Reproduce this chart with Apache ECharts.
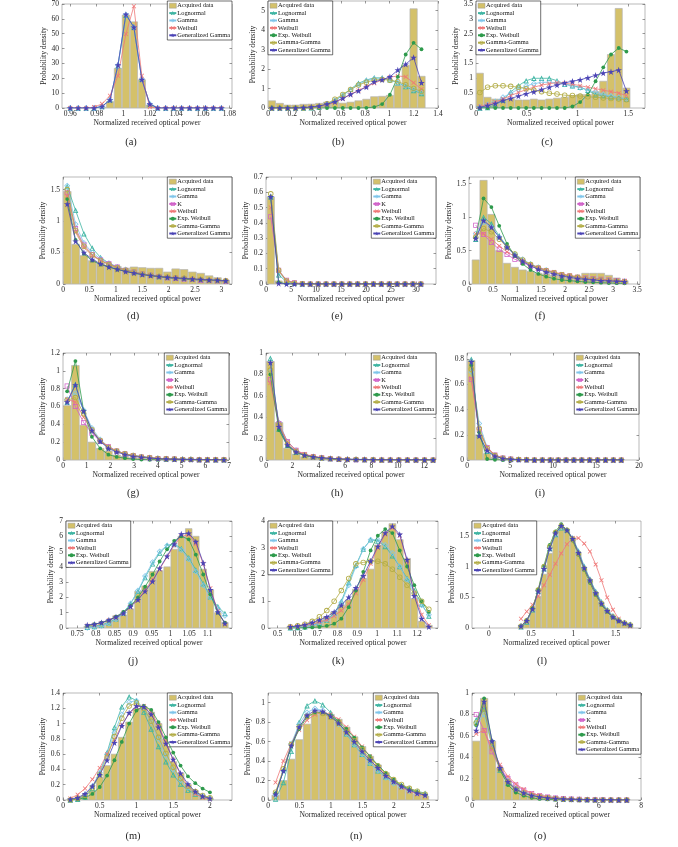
<!DOCTYPE html>
<html><head><meta charset="utf-8">
<script src="https://cdn.jsdelivr.net/npm/echarts@6/dist/echarts.min.js"></script>
<style>html,body{margin:0;padding:0;background:#fff}#c{width:678px;height:847px}</style>
</head><body><div id="c"></div>
<script>
// ---------------- DATA ----------------
// (a)
const A_x = [0.960,0.966,0.972,0.978,0.984,0.990,0.996,1.002,1.008,1.014,1.020,1.026,1.032,1.038,1.044,1.050,1.056,1.062,1.068,1.074];
const A_data = [0,0,0,0,0.5,4.3,26.7,62.6,58,19,2,0,0,0,0,0,0,0,0,0];
const A_logn = [0,0,0,0,1,5.6,28.5,62.5,54.5,19.5,2.8,0.1,0,0,0,0,0,0,0,0];
const A_gamma = [0,0,0,0,1,5.5,28.8,62.8,54.4,19.3,2.7,0,0,0,0,0,0,0,0,0];
const A_weib = [0,0,0,0.6,2.8,8.3,21.7,49.8,68.5,21.7,0.6,0,0,0,0,0,0,0,0,0];
const A_gen = [0,0,0,0,1,5.4,29,63,54.3,19.1,2.6,0,0,0,0,0,0,0,0,0];
const A_xt = [0.96,0.98,1,1.02,1.04,1.06,1.08];
const A_yt = [0,10,20,30,40,50,60,70];
// (b)
const B_x = [0.032,0.097,0.162,0.227,0.292,0.356,0.421,0.486,0.551,0.616,0.680,0.745,0.810,0.875,0.940,1.004,1.069,1.134,1.199,1.264];
const B_data = [0.37,0.24,0.15,0.15,0.19,0.2,0.24,0.3,0.35,0.25,0.3,0.37,0.45,0.58,0.6,0.65,1.15,2.2,5.1,1.63];
const B_logn = [0,0,0,0,0,0.01,0.05,0.18,0.38,0.65,0.97,1.27,1.44,1.55,1.55,1.45,1.3,1.1,0.9,0.75];
const B_gamma = [0,0,0,0,0,0.02,0.07,0.2,0.4,0.65,0.93,1.2,1.4,1.5,1.5,1.43,1.3,1.13,0.95,0.8];
const B_weib = [0,0,0,0,0.01,0.03,0.07,0.15,0.3,0.48,0.7,0.9,1.1,1.27,1.45,1.58,1.65,1.6,1.3,0.97];
const B_expw = [0,0,0,0,0,0,0,0,0,0,0,0,0.01,0.05,0.2,0.68,1.6,2.75,3.35,3.02];
const B_gg2 = [0,0,0,0,0,0.02,0.08,0.22,0.45,0.7,0.95,1.18,1.33,1.43,1.47,1.43,1.35,1.2,1.0,0.85];
const B_gen = [0,0,0,0,0.02,0.05,0.1,0.2,0.32,0.5,0.7,0.88,1.08,1.35,1.45,1.6,1.95,2.25,2.6,1.3];
const B_xt = [0,0.2,0.4,0.6,0.8,1,1.2,1.4];
const B_yt = [0,1,2,3,4,5];
// (c)
const C_x = [0.038,0.114,0.190,0.266,0.342,0.418,0.494,0.570,0.646,0.722,0.798,0.874,0.950,1.026,1.102,1.178,1.254,1.330,1.406,1.482];
const C_data = [1.17,0.36,0.3,0.3,0.32,0.27,0.27,0.3,0.27,0.3,0.33,0.36,0.42,0.45,0.45,0.55,0.9,1.8,3.35,0.67];
const C_logn = [0,0.02,0.1,0.27,0.54,0.75,0.92,1.0,1.0,1.0,0.92,0.8,0.75,0.7,0.6,0.45,0.42,0.38,0.35,0.3];
const C_gamma = [0.03,0.12,0.22,0.36,0.5,0.63,0.74,0.82,0.86,0.87,0.85,0.8,0.74,0.68,0.6,0.53,0.46,0.4,0.35,0.3];
const C_weib = [0.05,0.12,0.2,0.3,0.42,0.52,0.62,0.7,0.77,0.82,0.85,0.83,0.8,0.75,0.7,0.65,0.6,0.55,0.5,0.42];
const C_expw = [0,0,0,0,0,0,0,0,0,0,0,0,0.05,0.2,0.45,0.9,1.37,1.8,2.02,1.9];
const C_gg2 = [0.52,0.7,0.75,0.75,0.73,0.7,0.65,0.6,0.55,0.5,0.47,0.43,0.42,0.4,0.38,0.36,0.34,0.32,0.3,0.28];
const C_gen = [0.02,0.08,0.15,0.25,0.32,0.4,0.48,0.55,0.62,0.7,0.77,0.85,0.9,0.95,1.02,1.1,1.18,1.22,1.28,0.57];
const C_xt = [0,0.5,1,1.5];
const C_yt = [0,0.5,1,1.5,2,2.5,3,3.5];
// (d)
const D_x = [0.080,0.238,0.396,0.554,0.712,0.870,1.028,1.186,1.344,1.502,1.660,1.818,1.976,2.134,2.292,2.450,2.608,2.766,2.924,3.082];
const D_data = [1.47,0.63,0.45,0.37,0.33,0.3,0.28,0.25,0.27,0.26,0.25,0.25,0.19,0.24,0.23,0.19,0.17,0.13,0.1,0.06];
const D_logn = [1.55,1.17,0.8,0.57,0.42,0.33,0.27,0.22,0.19,0.16,0.14,0.12,0.11,0.1,0.09,0.08,0.07,0.065,0.06,0.055];
const D_gamma = [1.56,0.95,0.65,0.5,0.4,0.33,0.27,0.23,0.19,0.16,0.14,0.12,0.1,0.09,0.08,0.07,0.06,0.055,0.05,0.045];
const D_k = [1.45,0.88,0.62,0.47,0.38,0.32,0.27,0.22,0.19,0.16,0.14,0.12,0.1,0.09,0.08,0.07,0.06,0.055,0.05,0.045];
const D_weib = [1.4,0.82,0.58,0.45,0.37,0.31,0.26,0.22,0.19,0.16,0.14,0.12,0.11,0.1,0.09,0.08,0.07,0.06,0.055,0.05];
const D_expw = [1.35,0.7,0.48,0.37,0.31,0.27,0.23,0.2,0.17,0.15,0.13,0.115,0.1,0.09,0.08,0.07,0.065,0.06,0.055,0.05];
const D_gg2 = [1.5,0.85,0.6,0.46,0.37,0.31,0.26,0.22,0.19,0.16,0.14,0.12,0.11,0.1,0.09,0.08,0.07,0.06,0.055,0.05];
const D_gen = [1.27,0.68,0.5,0.39,0.32,0.27,0.235,0.2,0.175,0.15,0.135,0.12,0.105,0.095,0.088,0.08,0.072,0.065,0.058,0.05];
const D_xt = [0,0.5,1,1.5,2,2.5,3];
const D_yt = [0,0.5,1,1.5];
// (e)
const E_x = [0.95,2.53,4.11,5.69,7.27,8.85,10.43,12.01,13.59,15.17,16.75,18.33,19.91,21.49,23.07,24.65,26.23,27.81,29.39,30.97];
const E_data = [0.57,0.02,0.005,0,0,0,0,0,0,0,0,0,0,0,0,0,0,0,0,0];
const E_logn = [0.57,0.06,0.015,0.005,0,0,0,0,0,0,0,0,0,0,0,0,0,0,0,0];
const E_gamma = [0.57,0.08,0.02,0.005,0,0,0,0,0,0,0,0,0,0,0,0,0,0,0,0];
const E_k = [0.44,0.09,0.025,0.008,0.002,0,0,0,0,0,0,0,0,0,0,0,0,0,0,0];
const E_weib = [0.5,0.085,0.022,0.007,0.002,0,0,0,0,0,0,0,0,0,0,0,0,0,0,0];
const E_expw = [0.57,0.012,0.001,0,0,0,0,0,0,0,0,0,0,0,0,0,0,0,0,0];
const E_gg2 = [0.59,0.09,0.02,0.005,0.001,0,0,0,0,0,0,0,0,0,0,0,0,0,0,0];
const E_gen = [0.57,0.004,0,0,0,0,0,0,0,0,0,0,0,0,0,0,0,0,0,0];
const E_xt = [0,5,10,15,20,25,30];
const E_yt = [0,0.1,0.2,0.3,0.4,0.5,0.6,0.7];
// (f)
const F_x = [0.140,0.303,0.466,0.629,0.792,0.955,1.118,1.281,1.444,1.607,1.770,1.933,2.096,2.259,2.422,2.585,2.748,2.911,3.074,3.237];
const F_data = [0.36,1.55,1.04,0.5,0.31,0.25,0.21,0.19,0.16,0.15,0.13,0.12,0.11,0.12,0.16,0.16,0.16,0.13,0.09,0.05];
const F_logn = [0.67,1.0,0.9,0.72,0.56,0.44,0.35,0.29,0.24,0.2,0.17,0.14,0.12,0.1,0.09,0.08,0.07,0.06,0.05,0.045];
const F_gamma = [0.75,0.92,0.85,0.7,0.56,0.45,0.37,0.3,0.25,0.21,0.17,0.14,0.12,0.1,0.08,0.07,0.06,0.05,0.04,0.035];
const F_k = [0.88,0.74,0.62,0.52,0.44,0.37,0.32,0.27,0.23,0.2,0.17,0.14,0.12,0.1,0.09,0.08,0.07,0.06,0.05,0.04];
const F_weib = [0.75,0.75,0.67,0.57,0.48,0.41,0.35,0.29,0.25,0.21,0.18,0.15,0.13,0.11,0.09,0.08,0.07,0.06,0.05,0.04];
const F_expw = [0.69,1.28,1.15,0.87,0.6,0.42,0.3,0.21,0.15,0.11,0.08,0.06,0.05,0.04,0.03,0.025,0.02,0.015,0.012,0.01];
const F_gg2 = [0.7,0.83,0.78,0.67,0.55,0.45,0.36,0.29,0.24,0.2,0.17,0.14,0.12,0.1,0.08,0.07,0.06,0.05,0.04,0.035];
const F_gen = [0.68,0.95,0.85,0.7,0.55,0.43,0.34,0.27,0.22,0.18,0.15,0.12,0.1,0.08,0.07,0.06,0.05,0.045,0.04,0.035];
const F_xt = [0,0.5,1,1.5,2,2.5,3,3.5];
const F_yt = [0,0.5,1,1.5];
// (g)
const G_x = [0.175,0.523,0.871,1.219,1.567,1.915,2.263,2.611,2.959,3.307,3.655,4.003,4.351,4.699,5.047,5.395,5.743,6.091,6.439,6.787];
const G_data = [0.61,1.06,0.39,0.2,0.13,0.1,0.055,0.04,0.025,0.02,0.012,0.008,0.005,0.004,0.003,0.002,0.001,0,0,0];
const G_logn = [0.65,0.85,0.55,0.33,0.21,0.14,0.1,0.07,0.05,0.04,0.03,0.02,0.015,0.012,0.01,0.008,0.006,0.005,0.004,0.003];
const G_gamma = [0.68,0.75,0.56,0.36,0.23,0.15,0.1,0.07,0.05,0.035,0.025,0.018,0.013,0.01,0.007,0.005,0.004,0.003,0.002,0.002];
const G_k = [0.83,0.6,0.42,0.3,0.21,0.15,0.1,0.07,0.05,0.035,0.025,0.018,0.013,0.01,0.007,0.005,0.004,0.003,0.002,0.002];
const G_weib = [0.68,0.65,0.48,0.33,0.22,0.15,0.1,0.07,0.05,0.035,0.025,0.018,0.013,0.01,0.007,0.005,0.004,0.003,0.002,0.002];
const G_expw = [0.77,1.11,0.55,0.26,0.13,0.06,0.035,0.02,0.01,0.005,0.003,0.002,0.001,0,0,0,0,0,0,0];
const G_gg2 = [0.67,0.7,0.52,0.34,0.22,0.14,0.1,0.07,0.05,0.035,0.025,0.018,0.013,0.01,0.007,0.005,0.004,0.003,0.002,0.002];
const G_gen = [0.65,0.84,0.55,0.33,0.21,0.13,0.09,0.06,0.04,0.03,0.02,0.015,0.01,0.008,0.006,0.005,0.004,0.003,0.002,0.002];
const G_xt = [0,1,2,3,4,5,6,7];
const G_yt = [0,0.2,0.4,0.6,0.8,1,1.2];
// (h)
const H_x = [0.33,0.98,1.63,2.28,2.93,3.58,4.23,4.88,5.53,6.18,6.83,7.48,8.13,8.78,9.43,10.08,10.73,11.38,12.03,12.68];
const H_data = [0.92,0.35,0.11,0.055,0.03,0.02,0.012,0.008,0.005,0.003,0.002,0.001,0,0,0,0,0,0,0,0];
const H_logn = [0.95,0.29,0.14,0.075,0.045,0.03,0.02,0.015,0.01,0.008,0.006,0.005,0.004,0.003,0.003,0.002,0.002,0.002,0.001,0.001];
const H_gamma = [0.83,0.35,0.17,0.09,0.05,0.03,0.02,0.012,0.008,0.005,0.003,0.002,0.001,0.001,0,0,0,0,0,0];
const H_k = [0.75,0.34,0.17,0.09,0.05,0.03,0.02,0.012,0.008,0.005,0.003,0.002,0.001,0.001,0,0,0,0,0,0];
const H_weib = [0.72,0.33,0.17,0.09,0.055,0.035,0.022,0.015,0.01,0.007,0.005,0.003,0.002,0.001,0.001,0,0,0,0,0];
const H_expw = [0.8,0.28,0.13,0.07,0.04,0.025,0.015,0.01,0.006,0.004,0.003,0.002,0.001,0.001,0,0,0,0,0,0];
const H_gg2 = [0.84,0.33,0.15,0.08,0.045,0.028,0.018,0.012,0.008,0.005,0.004,0.003,0.002,0.001,0.001,0,0,0,0,0];
const H_gen = [0.91,0.31,0.14,0.075,0.045,0.03,0.02,0.014,0.01,0.007,0.005,0.004,0.003,0.002,0.002,0.001,0.001,0.001,0.001,0.001];
const H_xt = [0,2,4,6,8,10,12];
const H_yt = [0,0.2,0.4,0.6,0.8,1];
// (i)
const I_x = [0.50,1.42,2.34,3.25,4.17,5.09,6.01,6.93,7.84,8.76,9.68,10.60,11.52,12.43,13.35,14.27,15.19,16.11,17.02,17.94];
const I_data = [0.79,0.2,0.05,0.02,0.008,0.003,0.001,0,0,0,0,0,0,0,0,0,0,0,0,0];
const I_logn = [0.8,0.2,0.07,0.03,0.015,0.008,0.005,0.003,0.002,0.001,0,0,0,0,0,0,0,0,0,0];
const I_gamma = [0.7,0.29,0.1,0.035,0.012,0.004,0.001,0,0,0,0,0,0,0,0,0,0,0,0,0];
const I_k = [0.64,0.24,0.1,0.04,0.016,0.007,0.003,0.001,0,0,0,0,0,0,0,0,0,0,0,0];
const I_weib = [0.65,0.23,0.1,0.04,0.016,0.007,0.003,0.001,0,0,0,0,0,0,0,0,0,0,0,0];
const I_expw = [0.75,0.22,0.008,0.001,0,0,0,0,0,0,0,0,0,0,0,0,0,0,0,0];
const I_gg2 = [0.72,0.25,0.09,0.035,0.014,0.006,0.003,0.001,0,0,0,0,0,0,0,0,0,0,0,0];
const I_gen = [0.78,0.19,0.075,0.03,0.012,0.005,0.002,0.001,0,0,0,0,0,0,0,0,0,0,0,0];
const I_xt = [0,5,10,15,20];
const I_yt = [0,0.2,0.4,0.6,0.8];
// (j)
const J_x = [0.777,0.796,0.815,0.835,0.854,0.874,0.893,0.913,0.932,0.952,0.971,0.991,1.010,1.029,1.049,1.068,1.088,1.107,1.127,1.146];
const J_data = [0.12,0.18,0.3,0.5,0.8,0.85,1.25,2.4,2.75,3.7,3.75,4.0,5.15,6.0,6.5,6.0,3.85,2.5,1.0,0.35];
const J_logn = [0.05,0.1,0.2,0.35,0.6,1.0,1.6,2.4,3.3,4.2,4.9,5.4,5.5,5.2,4.6,3.8,2.9,2.05,1.4,0.95];
const J_gamma = [0.02,0.06,0.15,0.3,0.58,1.0,1.6,2.45,3.4,4.3,5.0,5.4,5.45,5.1,4.5,3.7,2.8,2.0,1.3,0.8];
const J_weib = [0.15,0.22,0.33,0.5,0.72,1.0,1.4,1.9,2.5,3.15,3.85,4.65,5.4,6.0,6.1,5.5,4.2,2.6,1.1,0.3];
const J_expw = [0.15,0.25,0.35,0.5,0.75,1.05,1.45,2.0,2.7,3.5,4.35,5.15,5.7,6.0,5.8,4.8,3.5,2.2,1.0,0.35];
const J_gen = [0.2,0.25,0.35,0.52,0.72,0.97,1.4,1.85,2.4,3.05,3.9,4.7,5.5,6.15,6.2,5.65,4.25,2.5,1.05,0.3];
const J_xt = [0.75,0.8,0.85,0.9,0.95,1,1.05,1.1];
const J_yt = [0,1,2,3,4,5,6,7];
// (k)
const K_x = [0.564,0.601,0.637,0.674,0.710,0.747,0.784,0.820,0.857,0.893,0.930,0.967,1.003,1.040,1.076,1.113,1.150,1.186,1.223,1.259];
const K_data = [0.05,0.07,0.1,0.2,0.3,0.42,0.6,0.85,1.05,1.45,1.85,2.2,3.1,3.6,3.9,3.3,2.6,1.1,0.25,0.1];
const K_logn = [0.01,0.02,0.05,0.1,0.18,0.3,0.55,1.0,1.7,2.35,2.95,3.3,3.25,3.05,2.7,2.3,1.85,1.4,0.9,0.45];
const K_gamma = [0.01,0.02,0.05,0.1,0.18,0.3,0.5,0.95,1.6,2.3,2.95,3.3,3.3,3.1,2.8,2.3,1.8,1.3,0.85,0.5];
const K_weib = [0.05,0.07,0.1,0.15,0.22,0.3,0.45,0.65,0.9,1.3,1.8,2.4,3.0,3.5,3.75,3.45,2.5,1.3,0.5,0.1];
const K_expw = [0,0,0.01,0.02,0.04,0.08,0.16,0.35,0.78,1.4,2.1,2.9,3.45,3.7,3.55,2.9,2.3,1.6,1.0,0.6];
const K_gg2 = [0.05,0.08,0.14,0.25,0.42,0.65,1.0,1.4,1.85,2.4,2.45,2.5,2.5,2.4,2.2,1.9,1.6,1.3,1.0,0.7];
const K_gen = [0.05,0.07,0.12,0.2,0.3,0.42,0.6,0.85,1.15,1.5,1.95,2.5,3.05,3.55,3.8,3.5,2.55,1.2,0.35,0.05];
const K_xt = [0.5,0.6,0.7,0.8,0.9,1,1.1,1.2];
const K_yt = [0,1,2,3,4];
// (l)
const L_x = [0.380,0.448,0.516,0.584,0.652,0.720,0.788,0.856,0.924,0.992,1.060,1.128,1.196,1.264,1.332,1.400,1.468,1.536,1.604,1.672];
const L_data = [0.04,0.12,0.3,0.52,0.88,1.22,1.5,1.63,1.58,1.45,1.22,0.97,0.77,0.57,0.4,0.28,0.18,0.12,0.08,0.05];
const L_logn = [0.02,0.1,0.3,0.6,0.97,1.3,1.53,1.64,1.6,1.47,1.26,1.01,0.8,0.6,0.43,0.3,0.2,0.14,0.09,0.06];
const L_gamma = [0.03,0.12,0.31,0.61,0.98,1.31,1.54,1.65,1.6,1.46,1.24,0.99,0.78,0.58,0.41,0.29,0.19,0.13,0.08,0.05];
const L_weib = [0.15,0.27,0.38,0.52,0.7,0.87,1.05,1.22,1.37,1.47,1.47,1.38,1.25,1.04,0.78,0.5,0.3,0.15,0.07,0.03];
const L_expw = [0.03,0.13,0.32,0.63,1.02,1.36,1.58,1.7,1.6,1.43,1.2,0.95,0.74,0.54,0.38,0.26,0.17,0.11,0.07,0.04];
const L_gg2 = [0.03,0.12,0.32,0.62,1.0,1.33,1.56,1.67,1.6,1.45,1.22,0.97,0.77,0.56,0.4,0.28,0.18,0.12,0.08,0.05];
const L_gen = [0.03,0.12,0.31,0.6,0.97,1.3,1.55,1.67,1.6,1.46,1.23,0.98,0.78,0.57,0.4,0.28,0.18,0.12,0.08,0.05];
const L_xt = [0,0.5,1,1.5];
const L_yt = [0,0.5,1,1.5];
// (m)
const M_x = [0.1,0.2,0.3,0.4,0.5,0.6,0.7,0.8,0.9,1.0,1.1,1.2,1.3,1.4,1.5,1.6,1.7,1.8,1.9,2.0];
const M_data = [0.01,0.02,0.05,0.12,0.3,0.45,0.6,0.82,1.02,1.2,1.22,1.15,1.0,0.8,0.5,0.35,0.2,0.12,0.05,0.02];
const M_logn = [0,0.01,0.04,0.15,0.35,0.62,0.95,1.22,1.35,1.3,1.15,0.93,0.7,0.5,0.33,0.21,0.13,0.08,0.05,0.03];
const M_gamma = [0,0.02,0.07,0.18,0.36,0.6,0.88,1.12,1.28,1.3,1.2,1.02,0.8,0.58,0.4,0.26,0.16,0.09,0.05,0.02];
const M_weib = [0.02,0.07,0.15,0.27,0.42,0.6,0.79,0.98,1.13,1.22,1.23,1.15,0.98,0.76,0.53,0.33,0.18,0.08,0.03,0.01];
const M_expw = [0,0.01,0.03,0.08,0.17,0.32,0.52,0.76,1.0,1.17,1.23,1.18,1.02,0.82,0.62,0.45,0.31,0.22,0.15,0.1];
const M_gg2 = [0,0.02,0.06,0.16,0.33,0.56,0.83,1.07,1.23,1.27,1.2,1.03,0.82,0.61,0.43,0.28,0.18,0.11,0.06,0.03];
const M_gen = [0.01,0.03,0.08,0.18,0.33,0.52,0.75,0.97,1.14,1.23,1.22,1.12,0.95,0.74,0.53,0.35,0.21,0.11,0.05,0.02];
const M_xt = [0,0.5,1,1.5,2];
const M_yt = [0,0.2,0.4,0.6,0.8,1,1.2,1.4];
// (n)
const N_x = [0.120,0.245,0.370,0.495,0.620,0.745,0.870,0.995,1.120,1.245,1.370,1.495,1.620,1.745,1.870,1.995,2.120,2.245,2.370,2.495];
const N_data = [0.05,0.2,0.42,0.62,0.78,0.88,0.9,0.88,0.83,0.75,0.65,0.55,0.45,0.36,0.28,0.2,0.14,0.1,0.06,0.04];
const N_logn = [0.01,0.18,0.5,0.8,0.97,1.02,0.98,0.9,0.8,0.68,0.57,0.47,0.38,0.3,0.24,0.19,0.15,0.12,0.09,0.07];
const N_gamma = [0.05,0.3,0.58,0.78,0.9,0.94,0.92,0.86,0.78,0.68,0.57,0.47,0.38,0.3,0.23,0.17,0.13,0.09,0.07,0.05];
const N_weib = [0.18,0.4,0.58,0.72,0.82,0.88,0.9,0.88,0.83,0.75,0.65,0.55,0.45,0.35,0.26,0.19,0.13,0.09,0.06,0.04];
const N_expw = [0.07,0.3,0.55,0.73,0.85,0.9,0.9,0.87,0.81,0.73,0.64,0.54,0.45,0.36,0.28,0.21,0.15,0.11,0.08,0.05];
const N_gg2 = [0.08,0.32,0.57,0.75,0.86,0.9,0.89,0.85,0.79,0.7,0.61,0.52,0.43,0.35,0.27,0.21,0.16,0.12,0.09,0.06];
const N_gen = [0.06,0.3,0.56,0.75,0.87,0.92,0.91,0.86,0.79,0.7,0.6,0.5,0.41,0.33,0.25,0.19,0.14,0.1,0.07,0.05];
const N_xt = [0,0.5,1,1.5,2,2.5];
const N_yt = [0,0.2,0.4,0.6,0.8,1];
// (o)
const O_x = [0.200,0.575,0.950,1.325,1.700,2.075,2.450,2.825,3.200,3.575,3.950,4.325,4.700,5.075,5.450,5.825,6.200,6.575,6.950,7.325];
const O_data = [0.55,0.95,0.55,0.3,0.18,0.12,0.08,0.06,0.05,0.04,0.03,0.02,0.015,0.01,0.008,0.006,0.004,0.003,0.002,0.001];
const O_logn = [0.75,0.85,0.5,0.28,0.16,0.1,0.065,0.045,0.03,0.02,0.015,0.01,0.008,0.006,0.004,0.003,0.002,0.002,0.001,0.001];
const O_gamma = [0.7,0.8,0.5,0.3,0.18,0.11,0.07,0.045,0.03,0.02,0.012,0.008,0.005,0.003,0.002,0.001,0.001,0,0,0];
const O_k = [0.8,0.65,0.45,0.3,0.2,0.14,0.09,0.06,0.04,0.028,0.019,0.013,0.009,0.006,0.004,0.003,0.002,0.001,0.001,0];
const O_weib = [0.62,0.65,0.48,0.33,0.22,0.15,0.1,0.065,0.043,0.028,0.018,0.012,0.008,0.005,0.003,0.002,0.001,0.001,0,0];
const O_expw = [0.7,0.95,0.55,0.28,0.14,0.07,0.04,0.02,0.01,0.005,0.003,0.002,0.001,0,0,0,0,0,0,0];
const O_gg2 = [0.72,0.85,0.5,0.29,0.17,0.1,0.065,0.04,0.027,0.018,0.012,0.008,0.005,0.003,0.002,0.001,0.001,0,0,0];
const O_gen = [0.65,0.92,0.55,0.3,0.17,0.1,0.065,0.042,0.028,0.019,0.013,0.009,0.006,0.004,0.003,0.002,0.001,0.001,0,0];
const O_xt = [0,2,4,6,8];
const O_yt = [0,0.2,0.4,0.6,0.8,1];

// ---------------- LAYOUT / STYLE ----------------
const FONT = '"Liberation Serif","DejaVu Serif",serif';
const TRI_RING = 'path://M50,0L100,87L0,87Z M50,30L25.5,72.5L74.5,72.5Z';
const DIA_RING = 'path://M50,0L100,50L50,100L0,50Z M50,17L17,50L50,83L83,50Z';
const SQ_RING = 'path://M0,0L100,0L100,100L0,100Z M15,15L15,85L85,85L85,15Z';
const CIR_RING = 'path://M0,50A50,50 0 1,1 100,50A50,50 0 1,1 0,50Z M15,50A35,35 0 1,0 85,50A35,35 0 1,0 15,50Z';
const X_MARK = 'path://M0,12L12,0L50,38L88,0L100,12L62,50L100,88L88,100L50,62L12,100L0,88L38,50Z';
const STAR = 'path://M50,0L61.8,36.2L100,36.2L69.1,58.8L80.9,95.1L50,72.7L19.1,95.1L30.9,58.8L0,36.2L38.2,36.2Z';
const STY = {
  'Lognormal': {symbol:TRI_RING, size:5.5, color:'#3fb5a3'},
  'Gamma': {symbol:DIA_RING, size:6, color:'#7ec5ea'},
  'K': {symbol:SQ_RING, size:5, color:'#d060c8'},
  'Weibull': {symbol:X_MARK, size:4.5, color:'#ef7878'},
  'Exp. Weibull': {symbol:'circle', size:3.8, color:'#2e9a4c'},
  'Gamma-Gamma': {symbol:CIR_RING, size:5.5, color:'#b3ad48'},
  'Generalized Gamma': {symbol:STAR, size:6.5, color:'#4b44b5'}
};
const BAR_FILL = '#d4c16a', BAR_EDGE = '#b4b4b4';

const panels = [
  {tag:'(a)', x:A_x, bars:A_data, curves:[['Lognormal',A_logn],['Gamma',A_gamma],['Weibull',A_weib],['Generalized Gamma',A_gen]], rect:[62,1,232,108], xr:[0.9538,1.082], ymax:70, xt:A_xt, yt:A_yt, leg:'right', yc:14, tp:[131,142]},
  {tag:'(b)', x:B_x, bars:B_data, curves:[['Lognormal',B_logn],['Gamma',B_gamma],['Weibull',B_weib],['Exp. Weibull',B_expw],['Gamma-Gamma',B_gg2],['Generalized Gamma',B_gen]], rect:[268,1,438,108], xr:[0,1.4], ymax:5.5, xt:B_xt, yt:B_yt, leg:'left', yc:10, tp:[338,142]},
  {tag:'(c)', x:C_x, bars:C_data, curves:[['Lognormal',C_logn],['Gamma',C_gamma],['Weibull',C_weib],['Exp. Weibull',C_expw],['Gamma-Gamma',C_gg2],['Generalized Gamma',C_gen]], rect:[476,1,645,108], xr:[0,1.665], ymax:3.5, xt:C_xt, yt:C_yt, leg:'left', yc:17, tp:[547,142]},
  {tag:'(d)', x:D_x, bars:D_data, curves:[['Lognormal',D_logn],['Gamma',D_gamma],['K',D_k],['Weibull',D_weib],['Exp. Weibull',D_expw],['Gamma-Gamma',D_gg2],['Generalized Gamma',D_gen]], rect:[63,177,232,284], xr:[0,3.2], ymax:1.7, xt:D_xt, yt:D_yt, leg:'right', yc:15, tp:[133,316]},
  {tag:'(e)', x:E_x, bars:E_data, curves:[['Lognormal',E_logn],['Gamma',E_gamma],['K',E_k],['Weibull',E_weib],['Exp. Weibull',E_expw],['Gamma-Gamma',E_gg2],['Generalized Gamma',E_gen]], rect:[266,177,436,284], xr:[0,34], ymax:0.7, xt:E_xt, yt:E_yt, leg:'right', yc:15, tp:[337,316]},
  {tag:'(f)', x:F_x, bars:F_data, curves:[['Lognormal',F_logn],['Gamma',F_gamma],['K',F_k],['Weibull',F_weib],['Exp. Weibull',F_expw],['Gamma-Gamma',F_gg2],['Generalized Gamma',F_gen]], rect:[469,177,640,284], xr:[0,3.56], ymax:1.6, xt:F_xt, yt:F_yt, leg:'right', yc:15, tp:[540,316]},
  {tag:'(g)', x:G_x, bars:G_data, curves:[['Lognormal',G_logn],['Gamma',G_gamma],['K',G_k],['Weibull',G_weib],['Exp. Weibull',G_expw],['Gamma-Gamma',G_gg2],['Generalized Gamma',G_gen]], rect:[63,353,229,460], xr:[0,7], ymax:1.2, xt:G_xt, yt:G_yt, leg:'right', yc:15, tp:[133,493]},
  {tag:'(h)', x:H_x, bars:H_data, curves:[['Lognormal',H_logn],['Gamma',H_gamma],['K',H_k],['Weibull',H_weib],['Exp. Weibull',H_expw],['Gamma-Gamma',H_gg2],['Generalized Gamma',H_gen]], rect:[266,353,436,460], xr:[0,12.9], ymax:1, xt:H_xt, yt:H_yt, leg:'right', yc:15, tp:[337,493]},
  {tag:'(i)', x:I_x, bars:I_data, curves:[['Lognormal',I_logn],['Gamma',I_gamma],['K',I_k],['Weibull',I_weib],['Exp. Weibull',I_expw],['Gamma-Gamma',I_gg2],['Generalized Gamma',I_gen]], rect:[467,353,639,460], xr:[0,20], ymax:0.85, xt:I_xt, yt:I_yt, leg:'right', yc:13, tp:[540,493]},
  {tag:'(j)', x:J_x, bars:J_data, curves:[['Lognormal',J_logn],['Gamma',J_gamma],['Weibull',J_weib],['Exp. Weibull',J_expw],['Generalized Gamma',J_gen]], rect:[66,521,232,628], xr:[0.72,1.165], ymax:7, xt:J_xt, yt:J_yt, leg:'left', yc:11, tp:[133,661]},
  {tag:'(k)', x:K_x, bars:K_data, curves:[['Lognormal',K_logn],['Gamma',K_gamma],['Weibull',K_weib],['Exp. Weibull',K_expw],['Gamma-Gamma',K_gg2],['Generalized Gamma',K_gen]], rect:[268,521,438,628], xr:[0.452,1.305], ymax:4, xt:K_xt, yt:K_yt, leg:'left', yc:10, tp:[338,661]},
  {tag:'(l)', x:L_x, bars:L_data, curves:[['Lognormal',L_logn],['Gamma',L_gamma],['Weibull',L_weib],['Exp. Weibull',L_expw],['Gamma-Gamma',L_gg2],['Generalized Gamma',L_gen]], rect:[472,521,641,628], xr:[-0.2,1.8], ymax:1.75, xt:L_xt, yt:L_yt, leg:'left', yc:17, tp:[542,661]},
  {tag:'(m)', x:M_x, bars:M_data, curves:[['Lognormal',M_logn],['Gamma',M_gamma],['Weibull',M_weib],['Exp. Weibull',M_expw],['Gamma-Gamma',M_gg2],['Generalized Gamma',M_gen]], rect:[63,693,232,800], xr:[0,2.3], ymax:1.4, xt:M_xt, yt:M_yt, leg:'right', yc:15, tp:[133,836]},
  {tag:'(n)', x:N_x, bars:N_data, curves:[['Lognormal',N_logn],['Gamma',N_gamma],['Weibull',N_weib],['Exp. Weibull',N_expw],['Gamma-Gamma',N_gg2],['Generalized Gamma',N_gen]], rect:[268,693,438,800], xr:[0,2.7], ymax:1.1, xt:N_xt, yt:N_yt, leg:'right', yc:15, tp:[356,836]},
  {tag:'(o)', x:O_x, bars:O_data, curves:[['Lognormal',O_logn],['Gamma',O_gamma],['K',O_k],['Weibull',O_weib],['Exp. Weibull',O_expw],['Gamma-Gamma',O_gg2],['Generalized Gamma',O_gen]], rect:[472,693,641,800], xr:[0,8], ymax:1, xt:O_xt, yt:O_yt, leg:'right', yc:15, tp:[540,836]}
];

// ---------------- BUILD ----------------
const W = 678;
const fmt = v => String(parseFloat(Number(v).toFixed(4)));
const grid = [], xAxis = [], yAxis = [], series = [], legend = [], graphic = [];
const tickStyle = {color:'#555', width:0.6};
const labelStyle = {fontFamily:FONT, fontSize:7.5, color:'#262626'};
const nameStyle = {fontFamily:FONT, fontSize:7.6, color:'#262626'};

panels.forEach((p, i) => {
  const [l, t, r, b] = p.rect;
  grid.push({left:l, top:t, width:r-l, height:b-t, show:true, borderColor:'#8a8a8a', borderWidth:0.6, backgroundColor:'transparent', containLabel:false});
  const xa = {type:'value', gridIndex:i, min:p.xr[0], max:p.xr[1], splitLine:{show:false}, axisLine:{show:false, onZero:false}};
  xAxis.push(Object.assign({}, xa, {position:'bottom',
    axisTick:{show:true, inside:true, length:2.5, lineStyle:tickStyle, customValues:p.xt},
    axisLabel:Object.assign({show:true, margin:2, customValues:p.xt, formatter:fmt, showMinLabel:true, showMaxLabel:true}, labelStyle),
    name:'Normalized received optical power', nameLocation:'middle', nameGap:10.5, nameTextStyle:nameStyle}));
  xAxis.push(Object.assign({}, xa, {position:'top',
    axisTick:{show:true, inside:true, length:2.5, lineStyle:tickStyle, customValues:p.xt},
    axisLabel:{show:false}}));
  const ya = {type:'value', gridIndex:i, min:0, max:p.ymax, splitLine:{show:false}, axisLine:{show:false, onZero:false}};
  yAxis.push(Object.assign({}, ya, {position:'left',
    axisTick:{show:true, inside:true, length:2.5, lineStyle:tickStyle, customValues:p.yt},
    axisLabel:Object.assign({show:true, margin:3, customValues:p.yt, formatter:fmt, showMinLabel:true, showMaxLabel:true}, labelStyle),
    name:'Probability density', nameLocation:'middle', nameGap:p.yc-4.5, nameTextStyle:nameStyle}));
  yAxis.push(Object.assign({}, ya, {position:'right',
    axisTick:{show:true, inside:true, length:2.5, lineStyle:tickStyle, customValues:p.yt},
    axisLabel:{show:false}}));

  const bw = p.x[1] - p.x[0];
  series.push({
    type:'custom', name:'Acquired data', xAxisIndex:2*i, yAxisIndex:2*i, clip:true, silent:true, z:1,
    itemStyle:{color:BAR_FILL},
    data:p.x.map((v, k) => [v, p.bars[k]]),
    renderItem:(params, api) => {
      const xv = api.value(0), yv = api.value(1);
      const p0 = api.coord([xv - bw*0.46, yv]);
      const p1 = api.coord([xv + bw*0.46, 0]);
      return {type:'rect', shape:{x:p0[0], y:p0[1], width:p1[0]-p0[0], height:p1[1]-p0[1]},
        style:{fill:BAR_FILL, stroke:BAR_EDGE, lineWidth:0.7}};
    }
  });
  const names = ['Acquired data'];
  p.curves.forEach(([name, vals], k) => {
    const s = STY[name];
    names.push(name);
    series.push({
      type:'line', name, xAxisIndex:2*i, yAxisIndex:2*i, clip:true, silent:true, z:3+k,
      data:p.x.map((v, j) => [v, vals[j]]),
      symbol:s.symbol, symbolSize:s.size, showSymbol:true,
      lineStyle:{color:s.color, width:0.8},
      itemStyle:{color:s.color, borderWidth:0}
    });
  });
  const order = ['Acquired data','Lognormal','Gamma','K','Weibull','Exp. Weibull','Gamma-Gamma','Generalized Gamma'];
  const legData = order.filter(n => names.includes(n)).map(n => n === 'Acquired data'
    ? {name:n, icon:'rect', itemStyle:{color:BAR_FILL, borderColor:'#999', borderWidth:0.5}}
    : {name:n});
  const lg = {
    orient:'vertical', top:t, data:legData, selectedMode:false,
    itemWidth:7, itemHeight:5, itemGap:0, padding:[1,2,1,1],
    backgroundColor:'#fff', borderColor:'#111', borderWidth:0.6,
    textStyle:{fontFamily:FONT, fontSize:6.4, lineHeight:7.4, color:'#111', padding:[0,0,0,-4]}
  };
  if (p.leg === 'right') lg.right = W - r; else lg.left = l;
  legend.push(lg);
  graphic.push({type:'text', x:p.tp[0], y:p.tp[1], silent:true,
    style:{text:p.tag, fontFamily:FONT, fontSize:10.5, fill:'#262626', align:'center', verticalAlign:'middle'}});
});

const chart = echarts.init(document.getElementById('c'), null, {renderer:'canvas'});
chart.setOption({animation:false, backgroundColor:'#fff', grid, xAxis, yAxis, series, legend, graphic});
</script>
</body></html>
